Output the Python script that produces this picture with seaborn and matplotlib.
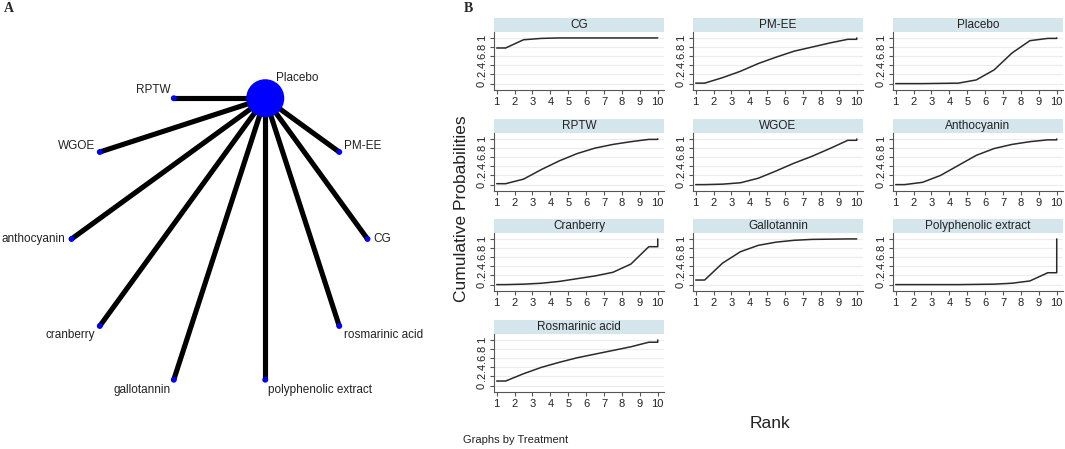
import numpy as np
import pandas as pd
import matplotlib
matplotlib.use("Agg")
import matplotlib.pyplot as plt
from matplotlib.patches import Rectangle
import seaborn as sns

# ---- data: network plot (panel A) ----
nodes = ['Placebo', 'PM-EE', 'CG', 'rosmarinic acid', 'polyphenolic extract',
         'gallotannin', 'cranberry', 'anthocyanin', 'WGOE', 'RPTW']
node_size = [750, 18, 18, 18, 18, 18, 18, 18, 18, 18]
edges = [('Placebo', n) for n in nodes[1:]]

# ---- data: cumulative rank probabilities (panel B), ranks 1..10 ----
treatments = ['CG', 'PM-EE', 'Placebo', 'RPTW', 'WGOE', 'Anthocyanin',
              'Cranberry', 'Gallotannin', 'Polyphenolic extract', 'Rosmarinic acid']
ranks = list(range(1, 11))
cum_cg = [0.78, 0.96, 0.99, 1.0, 1.0, 1.0, 1.0, 1.0, 1.0, 1.0]
cum_pmee = [0.01, 0.13, 0.27, 0.44, 0.58, 0.71, 0.80, 0.89, 0.97, 1.0]
cum_placebo = [0.0, 0.0, 0.005, 0.01, 0.08, 0.30, 0.67, 0.94, 0.99, 1.0]
cum_rptw = [0.02, 0.12, 0.33, 0.52, 0.68, 0.80, 0.88, 0.94, 0.99, 1.0]
cum_wgoe = [0.0, 0.01, 0.04, 0.14, 0.30, 0.47, 0.62, 0.79, 0.97, 1.0]
cum_antho = [0.0, 0.05, 0.20, 0.42, 0.64, 0.79, 0.88, 0.94, 0.98, 1.0]
cum_cran = [0.0, 0.01, 0.03, 0.07, 0.13, 0.19, 0.27, 0.45, 0.83, 1.0]
cum_gallo = [0.10, 0.47, 0.72, 0.86, 0.93, 0.97, 0.99, 0.995, 1.0, 1.0]
cum_poly = [0.0, 0.0, 0.0, 0.0, 0.005, 0.01, 0.03, 0.08, 0.26, 1.0]
cum_rosm = [0.10, 0.26, 0.40, 0.51, 0.61, 0.69, 0.77, 0.85, 0.95, 1.0]
cum_all = [cum_cg, cum_pmee, cum_placebo, cum_rptw, cum_wgoe, cum_antho,
           cum_cran, cum_gallo, cum_poly, cum_rosm]

# stata-style step path: flat to 1.5, points at k+0.5, flat to 10, jump to last
rows = []
for t, c in zip(treatments, cum_all):
    xs = [ranks[0]] + [r + 0.5 for r in ranks[:-1]] + [ranks[-1], ranks[-1]]
    ys = [c[0]] + c[:-1] + [c[-2], c[-1]]
    for i, (x, y) in enumerate(zip(xs, ys)):
        rows.append({'Treatment': t, 'order': i, 'Rank': x, 'Cum': y})
df = pd.DataFrame(rows)

sns.set_style("ticks")
plt.rcParams['font.family'] = ['Liberation Sans', 'DejaVu Sans']

W, H = 1065, 449
fig = plt.figure(figsize=(W / 100, H / 100), dpi=100)

# ---- Panel A ----
cx, cy, rad = 219.5, 239, 148
axA = fig.add_axes([0, 0, 420 / W, 1])
axA.set_xlim(-cx / rad, (420 - cx) / rad)
axA.set_ylim((cy - H) / rad, cy / rad)
axA.axis('off')

ang = np.deg2rad(72 - 36 * np.arange(len(nodes)))
pos = pd.DataFrame({'node': nodes, 'x': np.cos(ang), 'y': np.sin(ang), 'size': node_size})
pmap = {n: (x, y) for n, x, y in zip(pos['node'], pos['x'], pos['y'])}

for a, b in edges:
    axA.plot([pmap[a][0], pmap[b][0]], [pmap[a][1], pmap[b][1]],
             color='black', lw=3.7, solid_capstyle='butt', zorder=1)
sns.scatterplot(data=pos, x='x', y='y', size='size', sizes=(18, 750),
                color='#0000ff', edgecolor='none', legend=False, ax=axA, zorder=3)

label_off = {
    'Placebo': (11, 20, 'left'), 'PM-EE': (5, 6, 'left'), 'CG': (6, 0, 'left'),
    'rosmarinic acid': (5, -9, 'left'), 'polyphenolic extract': (3, -10, 'left'),
    'gallotannin': (-3, -10, 'right'), 'cranberry': (-5, -9, 'right'),
    'anthocyanin': (-6, 0, 'right'), 'WGOE': (-5, 6, 'right'), 'RPTW': (-3, 8, 'right'),
}
for n in nodes:
    dx, dy, ha = label_off[n]
    axA.annotate(n, pmap[n], xytext=(dx, dy), textcoords='offset pixels',
                 ha=ha, va='center', fontsize=8.5, color='#222222')

fig.text(4 / W, 1 - 8 / H, 'A', fontsize=10, fontweight='bold',
         family='Liberation Serif', va='center', ha='left')
fig.text(464 / W, 1 - 8 / H, 'B', fontsize=10, fontweight='bold',
         family='Liberation Serif', va='center', ha='left')

# ---- Panel B ----
col_left = [494, 693, 893]
pw, ph = 170, 58
row_top = [32, 133, 233, 334]
strip_h = 14
for i, t in enumerate(treatments):
    r, c = divmod(i, 3)
    left, top = col_left[c], row_top[r]
    ax = fig.add_axes([left / W, 1 - (top + ph) / H, pw / W, ph / H])
    sub = df[df['Treatment'] == t].sort_values('order')
    sns.lineplot(data=sub, x='Rank', y='Cum', sort=False, estimator=None,
                 color='#2a2a2a', lw=1.1, ax=ax)
    ax.set_xlim(0.85, 10.35)
    ax.set_ylim(-0.14, 1.13)
    ax.set_xticks(ranks)
    ax.set_yticks([0, 0.2, 0.4, 0.6, 0.8, 1.0])
    ax.set_yticklabels(['0', '.2', '.4', '.6', '.8', '1'], rotation=90, va='center')
    ax.tick_params(axis='both', labelsize=8, length=3, width=0.8,
                   color='#555555', labelcolor='#222222', pad=2)
    ax.grid(axis='y', color='#ececec', lw=0.8)
    ax.set_axisbelow(True)
    sns.despine(ax=ax)
    for s in ['left', 'bottom']:
        ax.spines[s].set_color('#555555')
        ax.spines[s].set_linewidth(0.8)
    ax.set_xlabel('')
    ax.set_ylabel('')
    ax.add_patch(Rectangle((0, 1), 1, strip_h / ph, transform=ax.transAxes,
                           facecolor='#d5e5ec', edgecolor='none', clip_on=False))
    ax.text(0.5, 1 + strip_h / ph / 2, t, transform=ax.transAxes,
            ha='center', va='center', fontsize=8.5, color='#222222')

fig.text(462 / W, 1 - 209 / H, 'Cumulative Probabilities', rotation=90,
         ha='center', va='center', fontsize=12.5, color='#222222')
fig.text(770 / W, 1 - 423 / H, 'Rank', ha='center', va='center',
         fontsize=12.5, color='#222222')
fig.text(463 / W, 1 - 440 / H, 'Graphs by Treatment', ha='left', va='center',
         fontsize=8, color='#222222')

fig.savefig('out.png', dpi=100)
